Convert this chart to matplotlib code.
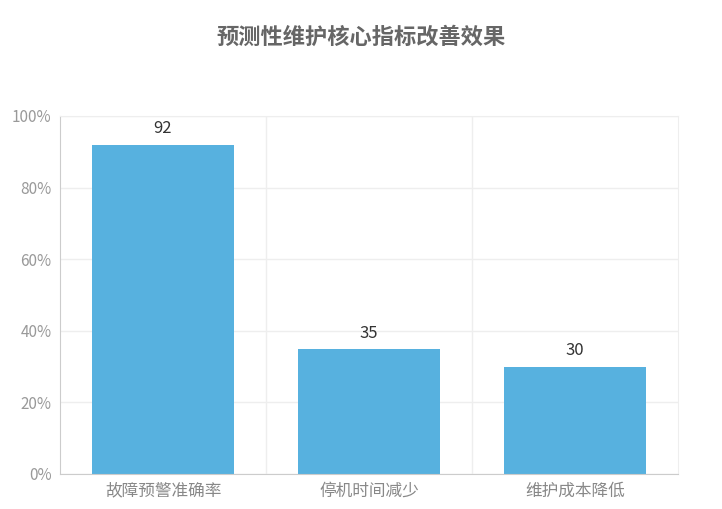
import matplotlib
matplotlib.use("Agg")
import matplotlib.pyplot as plt

plt.rcParams['font.family'] = ['Noto Sans CJK SC', 'DejaVu Sans']

categories = ["故障预警准确率", "停机时间减少", "维护成本降低"]
values = [92, 35, 30]
yticks = [0, 20, 40, 60, 80, 100]
ytick_labels = ["0%", "20%", "40%", "60%", "80%", "100%"]

fig = plt.figure(figsize=(7.22, 5.09), dpi=100)
ax = fig.add_axes([60/722, 1-474/509, (678-60)/722, (474-116)/509])
x = range(len(categories))
bars = ax.bar(x, values, width=0.69, color="#57b1df")
for i, v in zip(x, values):
    ax.text(i, v + 2, str(v), ha="center", va="bottom", fontsize=12, color="#333333")
ax.set_xlim(-0.5, 2.5)
ax.set_ylim(0, 100)
ax.set_yticks(yticks)
ax.set_yticklabels(ytick_labels, color="#999999", fontsize=11)
ax.set_xticks(list(x))
ax.set_xticklabels(categories, color="#888888", fontsize=12)
ax.tick_params(axis='both', length=0, pad=6)
ax.grid(axis='y', color="#eeeeee", linewidth=1)
for b in [0.5, 1.5]:
    ax.axvline(b, color="#eeeeee", linewidth=1)
ax.set_axisbelow(True)
for s in ["top", "right"]:
    ax.spines[s].set_color("#eeeeee")
ax.spines["left"].set_color("#cccccc")
ax.spines["bottom"].set_color("#cccccc")
fig.text(0.5, 1-37/509, "预测性维护核心指标改善效果", ha="center", va="center",
         fontsize=16, fontweight="bold", color="#666666")
fig.savefig("out.png", dpi=100)
